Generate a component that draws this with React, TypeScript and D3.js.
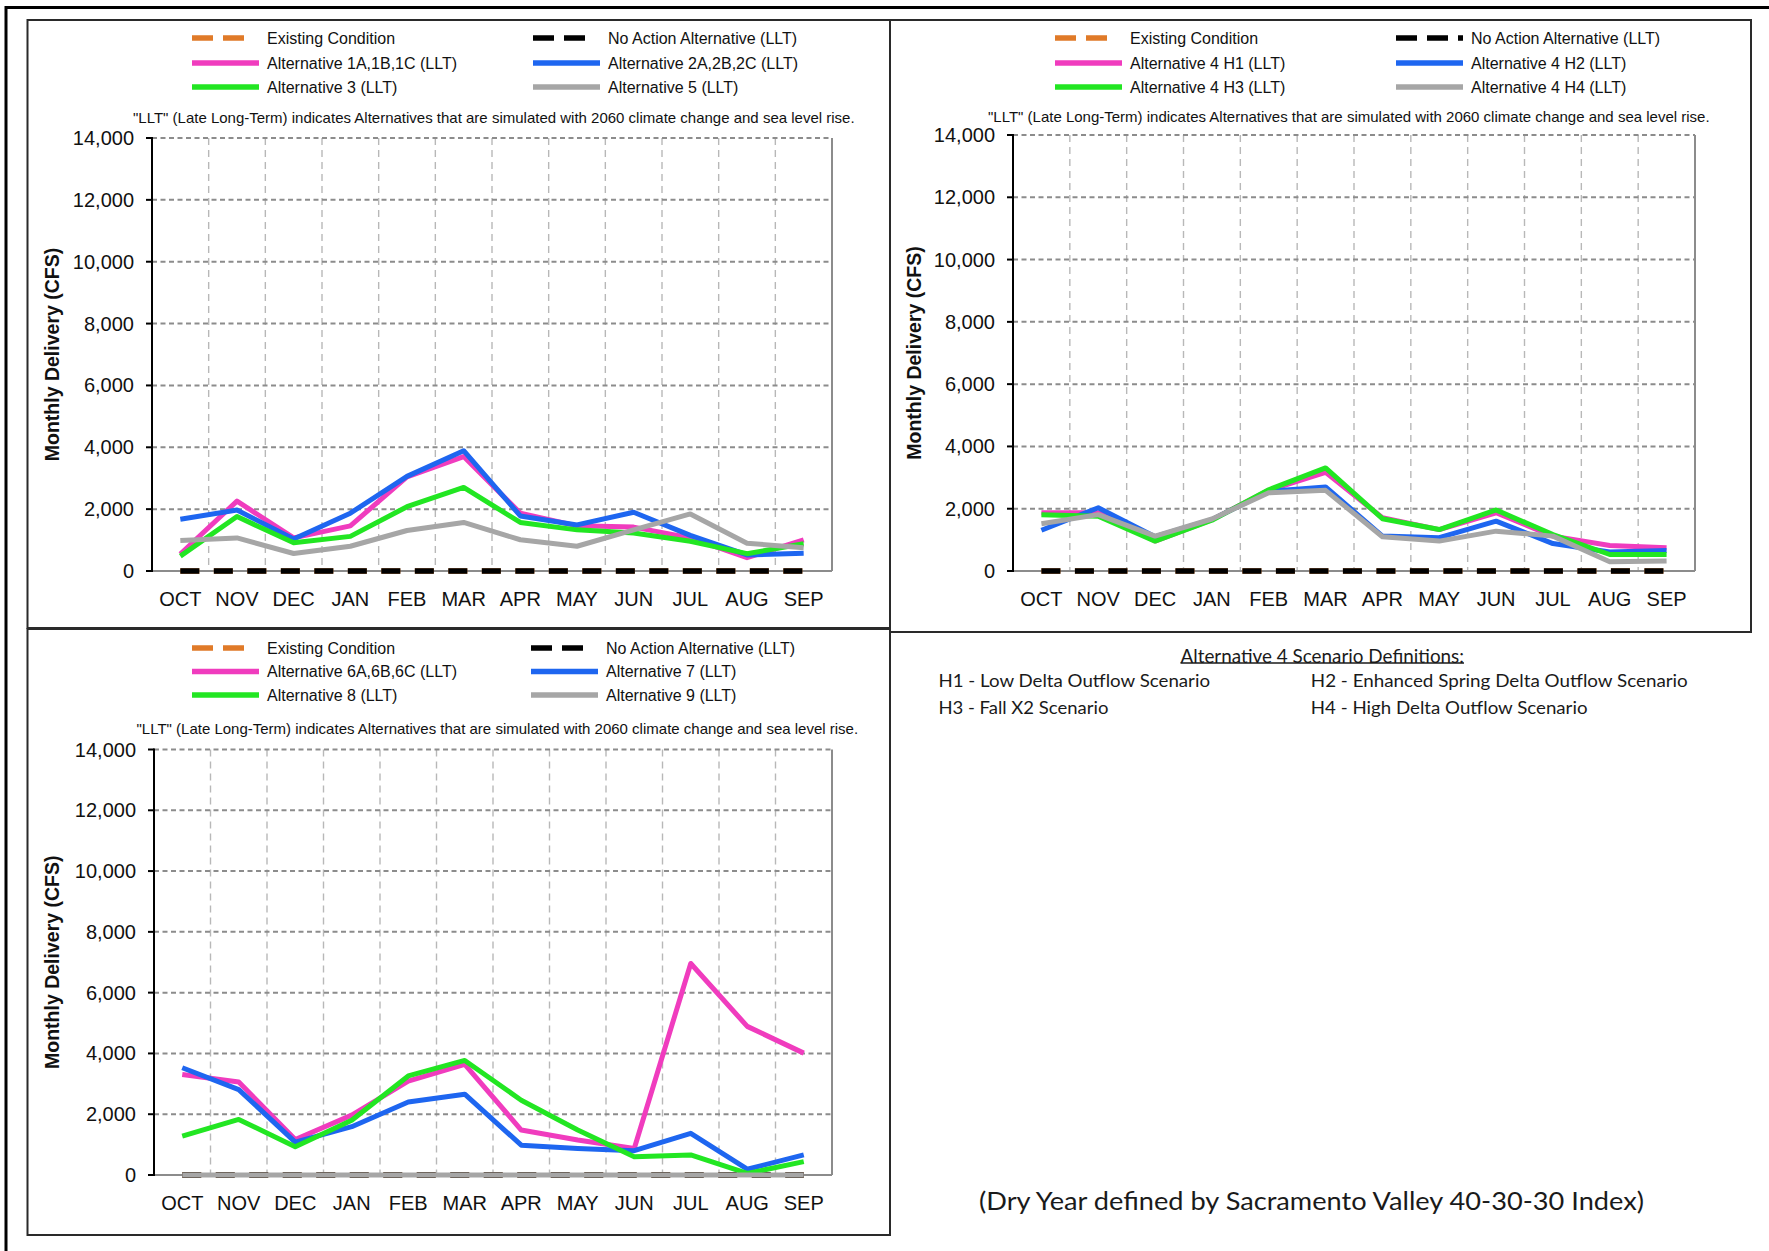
import React from 'react';
import * as d3 from 'd3';

// ---------- DATA ----------
const months = ['OCT', 'NOV', 'DEC', 'JAN', 'FEB', 'MAR', 'APR', 'MAY', 'JUN', 'JUL', 'AUG', 'SEP'];
const yTickValues = [0, 2000, 4000, 6000, 8000, 10000, 12000, 14000];

const existingCondition = [0, 0, 0, 0, 0, 0, 0, 0, 0, 0, 0, 0];
const noActionLLT = [0, 0, 0, 0, 0, 0, 0, 0, 0, 0, 0, 0];

// Panel 1
const alt1ABC = [550, 2260, 1070, 1460, 3040, 3700, 1870, 1460, 1420, 1070, 430, 1010];
const alt2ABC = [1675, 1970, 1035, 1870, 3060, 3890, 1780, 1490, 1900, 1150, 520, 570];
const alt3 = [480, 1760, 910, 1120, 2080, 2700, 1570, 1330, 1230, 960, 560, 880];
const alt5 = [990, 1070, 565, 800, 1310, 1570, 1010, 800, 1330, 1845, 900, 750];

// Panel 2
const alt4H1 = [1870, 1870, 960, 1650, 2590, 3170, 1710, 1330, 1870, 1120, 820, 750];
const alt4H2 = [1310, 2030, 1100, 1650, 2560, 2700, 1120, 1070, 1600, 880, 610, 660];
const alt4H3 = [1810, 1760, 960, 1630, 2610, 3310, 1680, 1330, 1960, 1170, 530, 530];
const alt4H4 = [1520, 1810, 1120, 1670, 2510, 2590, 1100, 960, 1280, 1120, 300, 320];

// Panel 3
const alt6ABC = [3310, 3060, 1170, 1970, 3090, 3640, 1480, 1150, 870, 6960, 4890, 4010];
const alt7 = [3530, 2810, 1080, 1590, 2400, 2660, 980, 870, 800, 1370, 190, 660];
const alt8 = [1280, 1830, 930, 1800, 3260, 3770, 2460, 1480, 600, 660, 50, 440];
const alt9 = [0, 0, 0, 0, 0, 0, 0, 0, 0, 0, 0, 0];

const panel1Labels = ['Existing Condition', 'No Action Alternative (LLT)', 'Alternative 1A,1B,1C (LLT)', 'Alternative 2A,2B,2C (LLT)', 'Alternative 3 (LLT)', 'Alternative 5 (LLT)'];
const panel2Labels = ['Existing Condition', 'No Action Alternative (LLT)', 'Alternative 4 H1 (LLT)', 'Alternative 4 H2 (LLT)', 'Alternative 4 H3 (LLT)', 'Alternative 4 H4 (LLT)'];
const panel3Labels = ['Existing Condition', 'No Action Alternative (LLT)', 'Alternative 6A,6B,6C (LLT)', 'Alternative 7 (LLT)', 'Alternative 8 (LLT)', 'Alternative 9 (LLT)'];

const noteText = '"LLT" (Late Long-Term) indicates Alternatives that are simulated with 2060 climate change and sea level rise.';
const yAxisTitle = 'Monthly Delivery (CFS)';
const scenarioTitle = 'Alternative 4 Scenario Definitions:';
const scenarioDefs = ['H1 - Low Delta Outflow Scenario', 'H2 - Enhanced Spring Delta Outflow Scenario', 'H3 - Fall X2 Scenario', 'H4 - High Delta Outflow Scenario'];
const footnote = '(Dry Year defined by Sacramento Valley 40-30-30 Index)';

// ---------- STYLES ----------
const FONT = '"Liberation Sans", Arial, sans-serif';
const COLORS = {
  orange: '#E07A28',
  black: '#000000',
  pink: '#F03CBE',
  blue: '#1E66F0',
  green: '#22E622',
  gray: '#A6A6A6',
};
const SERIES_STYLES = [
  { color: COLORS.orange, dash: '19 14.5' },
  { color: COLORS.black, dash: '19 14.5' },
  { color: COLORS.pink, dash: null },
  { color: COLORS.blue, dash: null },
  { color: COLORS.green, dash: null },
  { color: COLORS.gray, dash: null },
];

type PanelCfg = {
  box: { x: number; y: number; w: number; h: number };
  plot: { left: number; right: number; top: number; bottom: number };
  legendRows: number[];
  legendCols: number[];
  blackSampleLen: number;
  note: { x: number; y: number };
  titleX: number;
  labels: string[];
  values: number[][];
};

const panels: PanelCfg[] = [
  {
    box: { x: 27.5, y: 20, w: 862.5, h: 608 },
    plot: { left: 152, right: 832, top: 138, bottom: 571 },
    legendRows: [38, 63, 87],
    legendCols: [192, 533],
    blackSampleLen: 52,
    note: { x: 133, y: 117.5 },
    titleX: 51.5,
    labels: panel1Labels,
    values: [existingCondition, noActionLLT, alt1ABC, alt2ABC, alt3, alt5],
  },
  {
    box: { x: 890, y: 20, w: 861, h: 612 },
    plot: { left: 1013, right: 1695, top: 135, bottom: 571 },
    legendRows: [38, 63, 87],
    legendCols: [1055, 1396],
    blackSampleLen: 67,
    note: { x: 988, y: 116.3 },
    titleX: 914,
    labels: panel2Labels,
    values: [existingCondition, noActionLLT, alt4H1, alt4H2, alt4H3, alt4H4],
  },
  {
    box: { x: 27.5, y: 629, w: 862.5, h: 606 },
    plot: { left: 154, right: 832, top: 749.5, bottom: 1175 },
    legendRows: [648, 671.5, 695],
    legendCols: [192, 531],
    blackSampleLen: 52,
    note: { x: 136.5, y: 728.6 },
    titleX: 51.5,
    labels: panel3Labels,
    values: [existingCondition, noActionLLT, alt6ABC, alt7, alt8, alt9],
  },
];

function Panel({ cfg }: { cfg: PanelCfg }) {
  const { plot, box } = cfg;
  const x = d3.scaleBand<string>().domain(months).range([plot.left, plot.right]).padding(0);
  const y = d3.scaleLinear().domain([0, 14000]).range([plot.bottom, plot.top]);
  const bw = x.bandwidth();
  const cx = (m: string) => (x(m) as number) + bw / 2;
  const line = d3
    .line<number>()
    .x((_, i) => cx(months[i]))
    .y((d) => y(d));

  return (
    <g>
      <rect x={box.x} y={box.y} width={box.w} height={box.h} fill="none" stroke="#2a2a2a" strokeWidth={2} />

      {/* vertical grid */}
      {months.slice(1).map((m) => (
        <line key={'v' + m} x1={x(m)} x2={x(m)} y1={plot.top} y2={plot.bottom} stroke="#b8b8b8" strokeWidth={1.4} strokeDasharray="7 5" />
      ))}
      {/* horizontal grid */}
      {yTickValues.slice(1).map((t) => (
        <line key={'h' + t} x1={plot.left} x2={plot.right} y1={y(t)} y2={y(t)} stroke="#8c8c8c" strokeWidth={2} strokeDasharray="5 3.5" />
      ))}
      {/* frame right & bottom */}
      <line x1={plot.right} x2={plot.right} y1={plot.top} y2={plot.bottom} stroke="#8c8c8c" strokeWidth={2} />
      <line x1={plot.left} x2={plot.right} y1={y(0)} y2={y(0)} stroke="#8c8c8c" strokeWidth={2} />
      {/* left axis */}
      <line x1={plot.left} x2={plot.left} y1={plot.top - 1} y2={plot.bottom + 1} stroke="#000" strokeWidth={2} />
      {yTickValues.map((t) => (
        <g key={'t' + t}>
          <line x1={plot.left - 6} x2={plot.left} y1={y(t)} y2={y(t)} stroke="#000" strokeWidth={2} />
          <text x={plot.left - 18} y={y(t)} textAnchor="end" dominantBaseline="central" fontSize={20} fontFamily={FONT} fill="#111">
            {d3.format(',')(t)}
          </text>
        </g>
      ))}
      {months.map((m) => (
        <text key={'m' + m} x={cx(m)} y={plot.bottom + 28} textAnchor="middle" dominantBaseline="central" fontSize={20} fontFamily={FONT} fill="#111">
          {m}
        </text>
      ))}
      <text
        transform={`translate(${cfg.titleX},${(plot.top + plot.bottom) / 2}) rotate(-90)`}
        textAnchor="middle"
        dominantBaseline="central"
        fontSize={19.5}
        fontWeight="bold"
        fontFamily={FONT}
        fill="#111"
      >
        {yAxisTitle}
      </text>

      {/* series */}
      {cfg.values.map((vals, i) => (
        <path
          key={'s' + i}
          d={line(vals) || ''}
          fill="none"
          stroke={SERIES_STYLES[i].color}
          strokeWidth={i < 2 ? 5.5 : 5}
          strokeDasharray={SERIES_STYLES[i].dash || undefined}
          strokeLinejoin="round"
          strokeLinecap="butt"
        />
      ))}

      {/* legend */}
      {cfg.labels.map((lab, i) => {
        const row = Math.floor(i / 2);
        const col = i % 2;
        const lx = cfg.legendCols[col];
        const ly = cfg.legendRows[row];
        const st = SERIES_STYLES[i];
        const len = st.dash ? (i === 1 ? cfg.blackSampleLen : 52) : 67;
        return (
          <g key={'l' + i}>
            <line x1={lx} x2={lx + len} y1={ly} y2={ly} stroke={st.color} strokeWidth={5.5} strokeDasharray={st.dash ? '21 10' : undefined} />
            <text x={lx + 75} y={ly} dominantBaseline="central" fontSize={16} fontFamily={FONT} fill="#111">
              {lab}
            </text>
          </g>
        );
      })}
      <text x={cfg.note.x} y={cfg.note.y} dominantBaseline="central" fontSize={15} fontFamily={FONT} fill="#111">
        {noteText}
      </text>
    </g>
  );
}

const LATO = 'Lato, "Open Sans", sans-serif';

export default function App() {
  return (
    <svg width={1769} height={1251} style={{ position: 'absolute', left: 0, top: 0, background: '#fff' }}>
      <rect x={0} y={0} width={1769} height={1251} fill="#fff" />
      <path d="M6,1260 V7.5 H1775" fill="none" stroke="#000" strokeWidth={3} />
      {panels.map((p, i) => (
        <Panel key={i} cfg={p} />
      ))}
      {/* Alternative 4 scenario definitions */}
      <text x={1180.5} y={655.4} dominantBaseline="central" fontSize={19} fontFamily={LATO} fill="#1a1a1a" textLength={283.5} lengthAdjust="spacingAndGlyphs">
        {scenarioTitle}
      </text>
      <line x1={1180.5} x2={1464} y1={663} y2={663} stroke="#1a1a1a" strokeWidth={1.3} />
      <text x={938.4} y={680.4} dominantBaseline="central" fontSize={18} fontFamily={LATO} fill="#1a1a1a" textLength={271.6} lengthAdjust="spacingAndGlyphs">
        {scenarioDefs[0]}
      </text>
      <text x={1310.8} y={680.4} dominantBaseline="central" fontSize={18} fontFamily={LATO} fill="#1a1a1a" textLength={377} lengthAdjust="spacingAndGlyphs">
        {scenarioDefs[1]}
      </text>
      <text x={938.4} y={706.5} dominantBaseline="central" fontSize={18} fontFamily={LATO} fill="#1a1a1a" textLength={170} lengthAdjust="spacingAndGlyphs">
        {scenarioDefs[2]}
      </text>
      <text x={1310.8} y={706.5} dominantBaseline="central" fontSize={18} fontFamily={LATO} fill="#1a1a1a" textLength={276.7} lengthAdjust="spacingAndGlyphs">
        {scenarioDefs[3]}
      </text>
      <text x={979} y={1199.5} dominantBaseline="central" fontSize={25} fontFamily={LATO} fill="#1a1a1a" textLength={665} lengthAdjust="spacingAndGlyphs">
        {footnote}
      </text>
    </svg>
  );
}
